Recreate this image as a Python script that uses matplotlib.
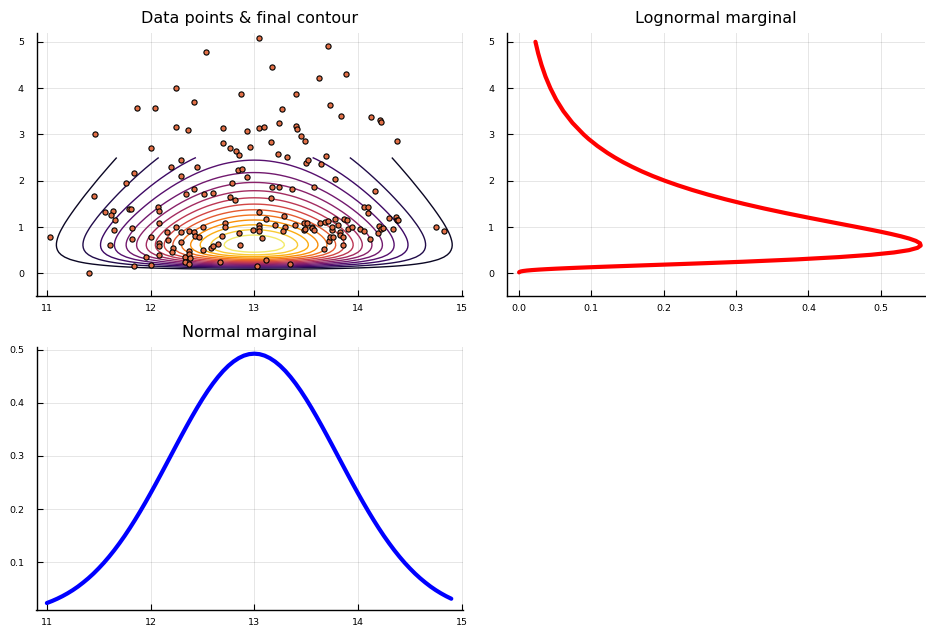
import numpy as np
import matplotlib
matplotlib.use("Agg")
import matplotlib.pyplot as plt
from matplotlib.colors import Normalize

# ---------------- data ----------------
pts_x = [11.03, 11.41, 11.46, 11.45, 11.56, 11.64, 11.62, 11.66, 11.65, 11.61,
         11.76, 11.84, 11.87, 11.79, 11.81, 11.82, 11.82, 11.84, 11.96, 12.00,
         12.00, 12.00, 12.04, 12.07, 12.08, 12.08, 12.08, 12.08, 12.08, 12.16,
         12.17, 12.20, 12.22, 12.21, 12.25, 12.25, 12.25, 12.29, 12.29, 12.29,
         12.29, 12.34, 12.33, 12.33, 12.36, 12.37, 12.37, 12.37, 12.38, 12.37,
         12.42, 12.42, 12.42, 12.43, 12.45, 12.47, 12.51, 12.51, 12.52, 12.53,
         12.58, 12.60, 12.60, 12.65, 12.67, 12.69, 12.70, 12.70, 12.72, 12.72,
         12.77, 12.77, 12.79, 12.81, 12.82, 12.85, 12.84, 12.88, 12.85, 12.86,
         12.87, 12.93, 12.93, 12.96, 12.99, 13.03, 13.05, 13.05, 13.09, 13.05,
         13.05, 13.05, 13.05, 13.07, 13.11, 13.11, 13.16, 13.16, 13.17, 13.17,
         13.20, 13.23, 13.24, 13.24, 13.27, 13.29, 13.30, 13.28, 13.32, 13.34,
         13.36, 13.39, 13.40, 13.40, 13.41, 13.45, 13.49, 13.50, 13.52, 13.48,
         13.51, 13.48, 13.49, 13.56, 13.56, 13.58, 13.58, 13.62, 13.64, 13.63,
         13.67, 13.68, 13.69, 13.71, 13.71, 13.73, 13.72, 13.73, 13.75, 13.75,
         13.76, 13.78, 13.78, 13.81, 13.83, 13.83, 13.84, 13.86, 13.86, 13.87,
         13.89, 13.88, 13.90, 13.94, 14.02, 14.06, 14.06, 14.10, 14.10, 14.12,
         14.13, 14.16, 14.19, 14.20, 14.21, 14.22, 14.22, 14.24, 14.30, 14.34,
         14.37, 14.38, 14.38, 14.39, 14.75, 14.83]
pts_y = [0.777, 0.014, 3.014, 1.662, 1.324, 1.338, 1.259, 1.151, 0.942, 0.619,
         1.950, 2.158, 3.576, 1.396, 1.388, 0.986, 0.741, 0.165, 0.360, 2.705,
         0.777, 0.187, 3.576, 1.432, 1.345, 1.094, 0.662, 0.590, 0.396, 0.885,
         0.719, 2.302, 0.554, 0.460, 3.993, 3.151, 1.000, 2.439, 2.101, 0.885,
         0.683, 1.719, 0.360, 0.252, 3.101, 0.906, 0.489, 0.417, 0.331, 0.209,
         3.698, 1.820, 0.892, 0.806, 2.302, 0.791, 1.000, 0.511, 1.705, 4.777,
         0.554, 1.727, 0.597, 0.626, 0.252, 0.799, 3.144, 2.820, 1.079, 1.007,
         2.705, 1.655, 1.942, 1.583, 2.647, 2.547, 2.230, 2.252, 0.878, 0.619,
         3.878, 3.072, 2.079, 2.719, 0.935, 0.165, 5.072, 3.137, 3.165, 1.317,
         1.036, 0.971, 0.914, 0.770, 1.165, 0.281, 2.842, 1.633, 1.856, 4.460,
         1.050, 2.568, 3.252, 1.856, 3.547, 1.237, 0.993, 0.914, 2.518, 0.209,
         1.827, 1.036, 3.871, 3.180, 3.108, 2.971, 2.863, 2.388, 2.439, 1.079,
         1.086, 0.935, 0.950, 1.000, 0.971, 1.856, 0.935, 4.216, 2.367, 1.086,
         0.525, 1.115, 2.525, 1.137, 4.914, 3.626, 0.705, 0.777, 0.935, 1.000,
         0.791, 1.165, 2.029, 1.036, 0.885, 0.835, 3.388, 0.777, 0.619, 1.173,
         1.158, 4.309, 0.950, 0.993, 0.950, 0.906, 1.424, 1.424, 1.295, 0.748,
         3.374, 1.777, 0.863, 1.029, 3.309, 3.259, 0.964, 0.978, 1.187, 0.950,
         1.223, 1.151, 2.863, 1.151, 1.000, 0.921]

normal_x = [11.00, 11.05, 11.10, 11.15, 11.20, 11.25, 11.30, 11.35, 11.40, 11.45,
            11.50, 11.55, 11.60, 11.65, 11.70, 11.75, 11.80, 11.85, 11.90, 11.95,
            12.00, 12.05, 12.10, 12.15, 12.20, 12.25, 12.30, 12.35, 12.40, 12.45,
            12.50, 12.55, 12.60, 12.65, 12.70, 12.75, 12.80, 12.85, 12.90, 12.95,
            13.00, 13.05, 13.10, 13.15, 13.20, 13.25, 13.30, 13.35, 13.40, 13.45,
            13.50, 13.55, 13.60, 13.65, 13.70, 13.75, 13.80, 13.85, 13.90, 13.95,
            14.00, 14.05, 14.10, 14.15, 14.20, 14.25, 14.30, 14.35, 14.40, 14.45,
            14.50, 14.55, 14.60, 14.65, 14.70, 14.75, 14.80, 14.85, 14.90]
normal_pdf = [0.0234, 0.0272, 0.0315, 0.0363, 0.0417, 0.0477, 0.0544, 0.0619, 0.0700, 0.0789,
              0.0887, 0.0992, 0.1106, 0.1228, 0.1359, 0.1497, 0.1644, 0.1798, 0.1959, 0.2126,
              0.2299, 0.2476, 0.2657, 0.2840, 0.3024, 0.3208, 0.3390, 0.3569, 0.3743, 0.3911,
              0.4071, 0.4221, 0.4360, 0.4486, 0.4599, 0.4696, 0.4777, 0.4841, 0.4888, 0.4916,
              0.4925, 0.4916, 0.4888, 0.4841, 0.4777, 0.4696, 0.4599, 0.4486, 0.4360, 0.4221,
              0.4071, 0.3911, 0.3743, 0.3569, 0.3390, 0.3208, 0.3024, 0.2840, 0.2657, 0.2476,
              0.2299, 0.2126, 0.1959, 0.1798, 0.1644, 0.1497, 0.1359, 0.1228, 0.1106, 0.0992,
              0.0887, 0.0789, 0.0700, 0.0619, 0.0544, 0.0477, 0.0417, 0.0363, 0.0315]
# contour grid reaches one step past the plotted marginal
contour_extra_x = 15.00
contour_extra_pdf = 0.0234

lognormal_y = [0.02, 0.03, 0.04, 0.05, 0.06, 0.07, 0.08, 0.09, 0.10, 0.11,
               0.12, 0.13, 0.14, 0.15, 0.17, 0.18, 0.20, 0.22, 0.25, 0.30,
               0.35, 0.40, 0.45, 0.50, 0.55, 0.60, 0.65, 0.70, 0.75, 0.80,
               0.85, 0.90, 0.95, 1.00, 1.05, 1.10, 1.20, 1.30, 1.40, 1.50,
               1.60, 1.70, 1.80, 1.90, 2.00, 2.10, 2.20, 2.30, 2.40, 2.50,
               2.60, 2.75, 2.90, 3.00, 3.25, 3.50, 3.75, 4.00, 4.25, 4.50,
               4.75, 5.00]
lognormal_pdf = [0.0001, 0.0008, 0.0025, 0.0058, 0.0110, 0.0182, 0.0273, 0.0384, 0.0510, 0.0652,
                 0.0804, 0.0968, 0.1139, 0.1317, 0.1681, 0.1865, 0.2233, 0.2590, 0.3097, 0.3833,
                 0.4419, 0.4864, 0.5180, 0.5388, 0.5506, 0.5551, 0.5540, 0.5484, 0.5393, 0.5276,
                 0.5140, 0.4991, 0.4833, 0.4669, 0.4502, 0.4335, 0.4005, 0.3687, 0.3387, 0.3108,
                 0.2849, 0.2612, 0.2394, 0.2196, 0.2014, 0.1849, 0.1699, 0.1563, 0.1438, 0.1325,
                 0.1222, 0.1084, 0.0963, 0.0892, 0.0738, 0.0614, 0.0514, 0.0433, 0.0366, 0.0311,
                 0.0265, 0.0227]

contour_ymax = 2.5
n_levels = 15

titles = ["Data points & final contour", "Lognormal marginal", "Normal marginal"]

# ---------------- figure ----------------
W, H = 926, 630
fig = plt.figure(figsize=(W / 100, H / 100), dpi=100)

def add_ax(l, t, r, b):
    return fig.add_axes([l / W, 1 - b / H, (r - l) / W, (b - t) / H])

def style(ax, xticks, yticks, xlabels=None, ylabels=None):
    for s in ["top", "right"]:
        ax.spines[s].set_visible(False)
    for s in ["left", "bottom"]:
        ax.spines[s].set_linewidth(1.0)
        ax.spines[s].set_color("black")
    ax.set_xticks(xticks)
    ax.set_yticks(yticks)
    if xlabels is not None:
        ax.set_xticklabels(xlabels)
    if ylabels is not None:
        ax.set_yticklabels(ylabels)
    ax.tick_params(direction="in", length=4, width=0.8, labelsize=6.8,
                   colors="black")
    ax.tick_params(axis="y", pad=9)
    ax.tick_params(axis="x", pad=6)
    ax.grid(True, color="black", alpha=0.1, linewidth=0.7)
    ax.set_axisbelow(True)

title_kw = dict(fontsize=11.5, pad=7)

# --- Plot 1: scatter + contour
ax1 = add_ax(36.5, 33, 462.7, 296)
ly = np.array(lognormal_y)
lp = np.array(lognormal_pdf)
mask = ly <= contour_ymax
cx = np.array(normal_x + [contour_extra_x])
cz = np.array(normal_pdf + [contour_extra_pdf])
Z = np.outer(lp[mask], cz)
zmax = Z.max()
levels = np.linspace(0, zmax, n_levels + 2)[1:-1]
ax1.contour(cx, ly[mask], Z, levels=levels, cmap="inferno",
            norm=Normalize(0, zmax), linewidths=1.0, zorder=2)
ax1.scatter(pts_x, pts_y, s=14, facecolor="#e26f46", edgecolor="black",
            linewidths=0.8, zorder=3)
ax1.set_xlim(10.9, 15.01)
ax1.set_ylim(-0.49, 5.19)
style(ax1, [11, 12, 13, 14, 15], [0, 1, 2, 3, 4, 5])
ax1.set_title(titles[0], **title_kw)

# --- Plot 2: lognormal marginal (sideways)
ax2 = add_ax(506.7, 33, 925, 296)
ax2.plot(lognormal_pdf, lognormal_y, color="#ff0000", linewidth=3.0,
         solid_capstyle="round", solid_joinstyle="round")
ax2.set_xlim(-0.017, 0.561)
ax2.set_ylim(-0.49, 5.19)
style(ax2, [0.0, 0.1, 0.2, 0.3, 0.4, 0.5], [0, 1, 2, 3, 4, 5],
      xlabels=["0.0", "0.1", "0.2", "0.3", "0.4", "0.5"])
ax2.set_title(titles[1], **title_kw)

# --- Plot 3: normal marginal
ax3 = add_ax(36.5, 346.7, 462.7, 610)
ax3.plot(normal_x, normal_pdf, color="#0000ff", linewidth=3.0,
         solid_capstyle="round", solid_joinstyle="round")
ax3.set_xlim(10.9, 15.01)
ax3.set_ylim(0.0103, 0.5056)
style(ax3, [11, 12, 13, 14, 15], [0.1, 0.2, 0.3, 0.4, 0.5],
      ylabels=["0.1", "0.2", "0.3", "0.4", "0.5"])
ax3.set_title(titles[2], **title_kw)

fig.savefig("out.png", dpi=100)
